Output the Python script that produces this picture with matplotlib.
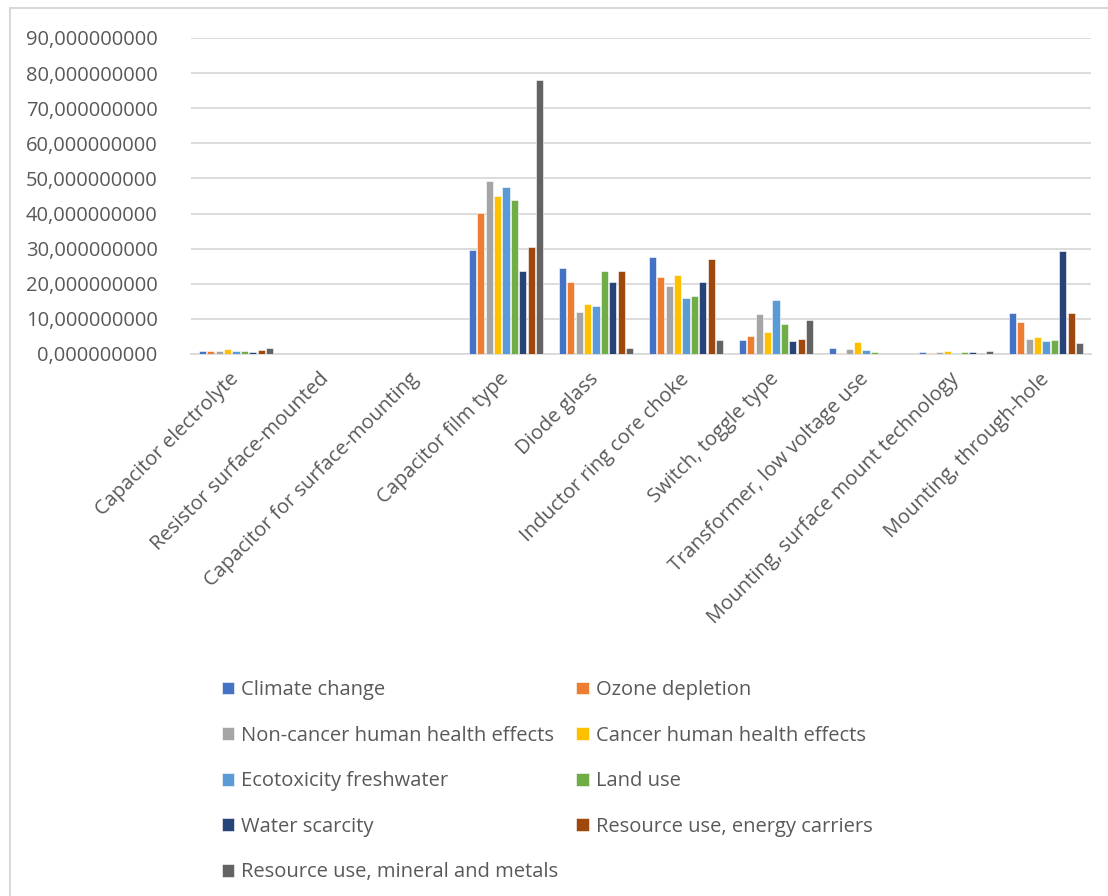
import matplotlib
matplotlib.use("Agg")
import matplotlib.pyplot as plt
from matplotlib.lines import Line2D
from matplotlib.ticker import FuncFormatter
import numpy as np

plt.rcParams['font.family'] = ['Open Sans', 'DejaVu Sans']

categories = [
    "Capacitor electrolyte",
    "Resistor surface-mounted",
    "Capacitor for surface-mounting",
    "Capacitor film type",
    "Diode glass",
    "Inductor ring core choke",
    "Switch, toggle type",
    "Transformer, low voltage use",
    "Mounting, surface mount technology",
    "Mounting, through-hole",
]

series_names = [
    "Climate change",
    "Ozone depletion",
    "Non-cancer human health effects",
    "Cancer human health effects",
    "Ecotoxicity freshwater",
    "Land use",
    "Water scarcity",
    "Resource use, energy carriers",
    "Resource use, mineral and metals",
]

climate_change   = [0.95, 0, 0, 29.6, 24.4, 27.7, 4.0, 1.7, 0.5, 11.8]
ozone_depletion  = [0.95, 0, 0, 40.3, 20.4, 22.0, 5.1, 0.3, 0.4, 9.0]
non_cancer       = [0.75, 0, 0, 49.2, 11.9, 19.4, 11.5, 1.3, 0.6, 4.4]
cancer           = [1.3, 0, 0, 45.1, 14.2, 22.4, 6.4, 3.3, 0.8, 4.9]
ecotoxicity      = [0.8, 0, 0, 47.5, 13.7, 15.9, 15.3, 1.1, 0.4, 3.7]
land_use         = [0.8, 0, 0, 43.8, 23.7, 16.6, 8.5, 0.6, 0.6, 4.0]
water_scarcity   = [0.55, 0, 0, 23.6, 20.4, 20.6, 3.6, 0.05, 0.5, 29.3]
energy_carriers  = [1.05, 0, 0, 30.6, 23.7, 27.0, 4.2, 0.05, 0.3, 11.8]
mineral_metals   = [1.7, 0, 0, 77.9, 1.6, 3.9, 9.7, 0.05, 0.95, 3.2]

series_values = [climate_change, ozone_depletion, non_cancer, cancer, ecotoxicity,
                 land_use, water_scarcity, energy_carriers, mineral_metals]

colors = ["#4472C4", "#ED7D31", "#A5A5A5", "#FFC000", "#5B9BD5",
          "#70AD47", "#264478", "#9E480E", "#636363"]

W, H = 1108, 896
fig = plt.figure(figsize=(W / 100, H / 100), dpi=100)
ax = fig.add_axes([191 / W, 1 - 354 / H, 900 / W, (354 - 38) / H])

x = np.arange(len(categories))
n = len(series_values)
slot = 0.093
bar_w = 0.08
handles = []
for i, (vals, c, name) in enumerate(zip(series_values, colors, series_names)):
    offs = (i - (n - 1) / 2) * slot
    b = ax.bar(x + offs, vals, width=bar_w, color=c, edgecolor="white",
               linewidth=0.4, label=name, zorder=3)
    handles.append(b)

text_color = "#595959"
grid_color = "#D9D9D9"

ax.set_xlim(-0.5, len(categories) - 0.5)
ax.set_ylim(0, 90)
ax.set_yticks(np.arange(0, 91, 10))
ax.yaxis.set_major_formatter(FuncFormatter(lambda v, p: f"{v:.9f}".replace(".", ",")))
ax.grid(axis="y", color=grid_color, linewidth=1.3, zorder=0)
for s in ["top", "right", "left"]:
    ax.spines[s].set_visible(False)
ax.spines["bottom"].set_color(grid_color)
ax.spines["bottom"].set_linewidth(1.3)
ax.tick_params(axis="y", length=0, pad=24, labelsize=14.5, labelcolor=text_color)
ax.tick_params(axis="x", length=0, pad=16, labelsize=14.5, labelcolor=text_color)
ax.set_xticks(x)
ax.set_xticklabels(categories, rotation=45, ha="right", va="center",
                   rotation_mode="anchor")

# Legend entries laid out row-wise in two columns
order = [0, 2, 4, 6, 8, 1, 3, 5, 7]
leg = fig.legend([handles[i] for i in order], [series_names[i] for i in order],
                 ncol=2, loc="upper left", bbox_to_anchor=(212 / W, 1 - 670 / H),
                 frameon=False, fontsize=14.5, labelcolor=text_color,
                 handlelength=0.6, handleheight=0.6, handletextpad=0.35,
                 columnspacing=0.9, labelspacing=1.27, borderpad=0)

# Chart-area border
fig.add_artist(Line2D([10 / W, 10 / W], [0, 1 - 8 / H], color=grid_color,
                      linewidth=1.5, transform=fig.transFigure))
fig.add_artist(Line2D([10 / W, 1], [1 - 8 / H, 1 - 8 / H], color=grid_color,
                      linewidth=1.5, transform=fig.transFigure))

fig.savefig("out.png", dpi=100, facecolor="white")
